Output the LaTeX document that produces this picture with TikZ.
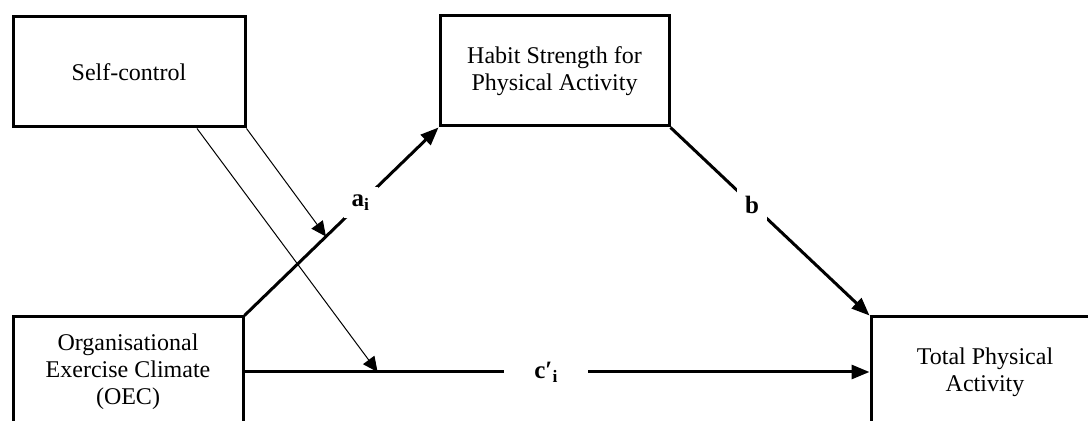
\documentclass[tikz,border=0pt]{standalone}
\usepackage{fontspec}
\setmainfont{Liberation Serif}
\usepackage{tikz}
\usetikzlibrary{arrows.meta}
\usetikzlibrary{positioning}
\usepackage{xcolor}

\tikzset{
  box/.style={draw, line width=1.5pt, minimum width=115pt, minimum height=55pt,
    inner sep=0pt, align=center, font=\fontsize{12}{13.5}\selectfont},
  mainarrow/.style={line width=1.5pt, -{Triangle[length=9pt,width=7pt]}},
  modarrow/.style={line width=0.5pt, -{Triangle[length=7.5pt,width=7pt]}},
  coef/.style={fill=white, inner sep=4pt, font=\fontsize{12.5}{14}\selectfont\bfseries},
}

\begin{document}
\begin{tikzpicture}[x=0.5pt, y=-0.5pt]

  \clip (0,0) rectangle (1088,421);

  \node[box, minimum width=116pt] (self) at (129,72) {Self-control};
  \node[box, minimum width=114.5pt] (habit) at (554.5,71) {Habit Strength for\\Physical Activity};
  \node[box] (oec) at (128,372) {Organisational\\Exercise Climate\\(OEC)};
  \node[box, minimum width=114pt] (total) at (985,372) {Total Physical\\Activity};

  \draw[mainarrow] (oec.north east) -- (habit.south west)
    coordinate[pos=0.42] (ajoin) node[coef, pos=0.6] {a\textsubscript{i}};
  \draw[mainarrow] (habit.south east) -- (total.north west)
    node[coef, pos=0.41] {b};
  \draw[mainarrow] (oec.east) -- (total.west)
    coordinate[pos=0.213] (cjoin) node[coef, pos=0.483, inner xsep=15pt] {c′\textsubscript{i}};

  \coordinate (selfout) at ([xshift=34pt]self.south);
  \draw[modarrow] (self.south east) -- (ajoin);
  \draw[modarrow] (selfout) -- (cjoin);

\end{tikzpicture}
\end{document}
